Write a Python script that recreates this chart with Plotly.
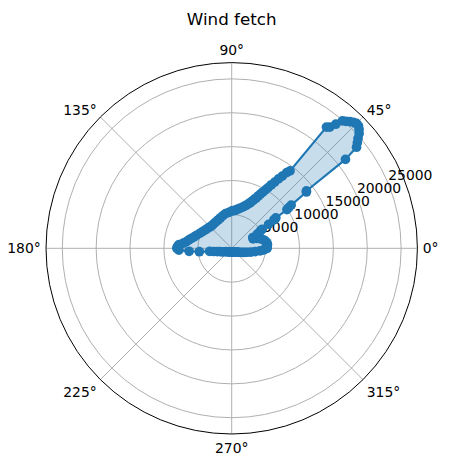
import plotly.graph_objects as go

# Wind direction (degrees) and fetch length (m)
theta_deg = [0, 3, 6, 9, 12, 15, 18, 21, 24, 27, 29, 31, 32, 33, 34, 34.5, 35, 35.5, 36, 37, 37.5,
             38, 39, 40, 41, 42, 43, 44, 45, 46, 47, 48, 49, 50, 51, 52,
             53, 54, 55, 56, 57, 58, 59, 60, 61, 62, 63, 64, 65, 66, 67, 68, 69, 71, 73, 75,
             78, 80, 83, 85, 88, 90, 95,
             100, 105, 110, 115, 120, 125, 130, 135, 140, 145, 150, 155, 160, 163,
             166, 169, 172, 174, 176, 178, 180, 182, 184, 186, 188, 190, 193, 196,
             200, 205, 210, 220, 230, 240, 250, 260, 270, 280, 290, 300, 310, 320,
             325, 330, 335, 340, 343, 346, 349, 352, 355, 357]
fetch_m = [5200, 5250, 5300, 5250, 5100, 4850, 4500, 4050, 3450, 3500, 4300, 4900, 5300, 6500, 7500, 7900, 9950, 10350, 10850, 13800, 13900,
           21300, 23700, 24200, 24700, 25300, 25700, 26000, 26050, 25850, 25550, 25200, 24900, 23900, 23000, 22700,
           14300, 13800, 13000, 12350, 11650, 11050, 10450, 9950, 9500, 9100, 8700, 8250, 8000, 7750, 7500, 7250, 7050, 6750, 6500, 6300,
           6050, 5900, 5750, 5600, 5550, 5500, 5300,
           5200, 5000, 4800, 4650, 4550, 4500, 4450, 4500, 4600, 4750, 4950, 5200, 5550, 5800,
           6100, 6450, 6800, 7200, 7800, 8000, 8100, 7800, 6300, 4800, 3300, 2700, 2200, 1800,
           1500, 1200, 1000, 800, 680, 600, 560, 530, 520, 530, 560, 620, 720, 850,
           950, 1100, 1400, 1750, 2050, 2400, 2900, 3500, 4200, 4700]

radial_ticks = [5000, 10000, 15000, 20000, 25000]
radial_label_angle = 22.5
radial_max = 27400
angle_ticks = [0, 45, 90, 135, 180, 225, 270, 315]
angle_labels = [f"{a}°" for a in angle_ticks]

BLUE = "#1f77b4"
FONT = "DejaVu Sans"

fig = go.Figure()
# radial tick labels, placed like matplotlib's (bottom-left corner at the ring), drawn beneath the data
fig.add_trace(go.Scatterpolar(
    theta=[radial_label_angle] * len(radial_ticks),
    r=radial_ticks,
    mode="text",
    text=[str(v) for v in radial_ticks],
    textposition="top right",
    textfont=dict(family=FONT, size=13.9, color="black"),
    hoverinfo="skip",
    showlegend=False,
    cliponaxis=False,
))
fig.add_trace(go.Scatterpolar(
    theta=theta_deg + theta_deg[:1],
    r=fetch_m + fetch_m[:1],
    mode="lines+markers",
    fill="toself",
    fillcolor="rgba(31,119,180,0.25)",
    line=dict(color=BLUE, width=2.1),
    marker=dict(color=BLUE, size=9.7),
    showlegend=False,
))

# page has an 8px body margin; figure coordinates = page coordinates - 8
OFF = 8
W, H = 453 - 2 * OFF, 468 - 2 * OFF
cx, cy, R = 231.7 - OFF, 248.3 - OFF, 185.7
fig.update_layout(
    width=W, height=H,
    margin=dict(l=0, r=0, t=0, b=0),
    paper_bgcolor="white",
    plot_bgcolor="white",
    font=dict(family=FONT, size=13.9, color="black"),
    title=dict(text="Wind fetch", x=cx / W, xanchor="center", y=1 - (19.5 - OFF) / H, yanchor="middle",
               yref="container", font=dict(family=FONT, size=16.7, color="black")),
    polar=dict(
        domain=dict(x=[(cx - R) / W, (cx + R) / W], y=[(H - cy - R) / H, (H - cy + R) / H]),
        bgcolor="white",
        angularaxis=dict(
            direction="counterclockwise", rotation=0, thetaunit="degrees",
            tickmode="array", tickvals=angle_ticks, ticktext=angle_labels,
            showline=True, linecolor="black", linewidth=1,
            showgrid=True, gridcolor="#b0b0b0", gridwidth=0.8,
            ticks="outside", ticklen=2, tickcolor="rgba(0,0,0,0)",
            tickfont=dict(family=FONT, size=13.9, color="black"),
        ),
        radialaxis=dict(
            range=[0, radial_max], angle=radial_label_angle,
            tickmode="array", tickvals=radial_ticks, showticklabels=False,
            showline=False, ticks="", showgrid=True, gridcolor="#b0b0b0", gridwidth=0.8,
        ),
    ),
)

fig.write_html("out.html")
